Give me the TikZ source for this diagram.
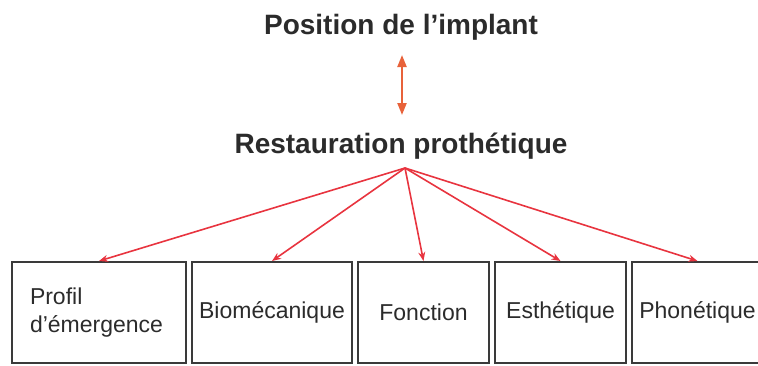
\documentclass[tikz,border=0pt]{standalone}
\usepackage{fontspec}
\setmainfont{Liberation Sans}
\usepackage{tikz}
\usetikzlibrary{positioning, arrows.meta}

\definecolor{txtgray}{HTML}{2B2B2B}
\definecolor{boxgray}{HTML}{3A3A3A}
\definecolor{fanred}{HTML}{E8343F}
\definecolor{linkorange}{HTML}{E8623A}

\begin{document}
\begin{tikzpicture}[
  x=1pt, y=-1pt,
  title/.style={font=\fontsize{28}{34}\selectfont\bfseries, text=txtgray,
    anchor=base, inner sep=0pt},
  facet/.style={rectangle, draw=boxgray, line width=2pt, inner sep=0pt,
    minimum height=101pt, minimum width=#1,
    font=\fontsize{23}{28}\selectfont, text=txtgray, align=center},
  facet/.default={131pt},
  fan/.style={-{Stealth[length=9pt, width=7pt]}, fanred, line width=1.6pt},
  link/.style={{Triangle[length=12pt, width=9pt]}-{Triangle[length=12pt, width=9pt]},
    linkorange, line width=2.2pt},
]
\useasboundingbox (0,0) rectangle (758,365);

% --- Headings ---
\node[title] (implant) at (401, 34)  {Position de l'implant};
\node[title] (resto)   at (401, 153) {Restauration prothétique};
\coordinate (linktop) at (402, 55);
\coordinate (linkbot) at (402, 115);
\coordinate (hub) at (405, 168);

% --- Facets ---
\node[facet=174pt, text width=138pt, align=left] (profil) at (99, 312.5)
  {Profil\\d'émergence};
\node[facet=160pt] (biomeca) at (272, 312.5)   {Biomécanique};
\node[facet]       (fonction) at (423.5, 312.5) {Fonction};
\node[facet]       (esthe)   at (560.5, 312.5) {Esthétique};
\node[facet]       (phone)   at (697.5, 312.5) {Phonétique};

% --- Links ---
\draw[link] (linktop) -- (linkbot);
\foreach \b in {profil, biomeca, fonction, esthe, phone}
  \draw[fan] (hub) -- (\b.north);

\end{tikzpicture}
\end{document}
